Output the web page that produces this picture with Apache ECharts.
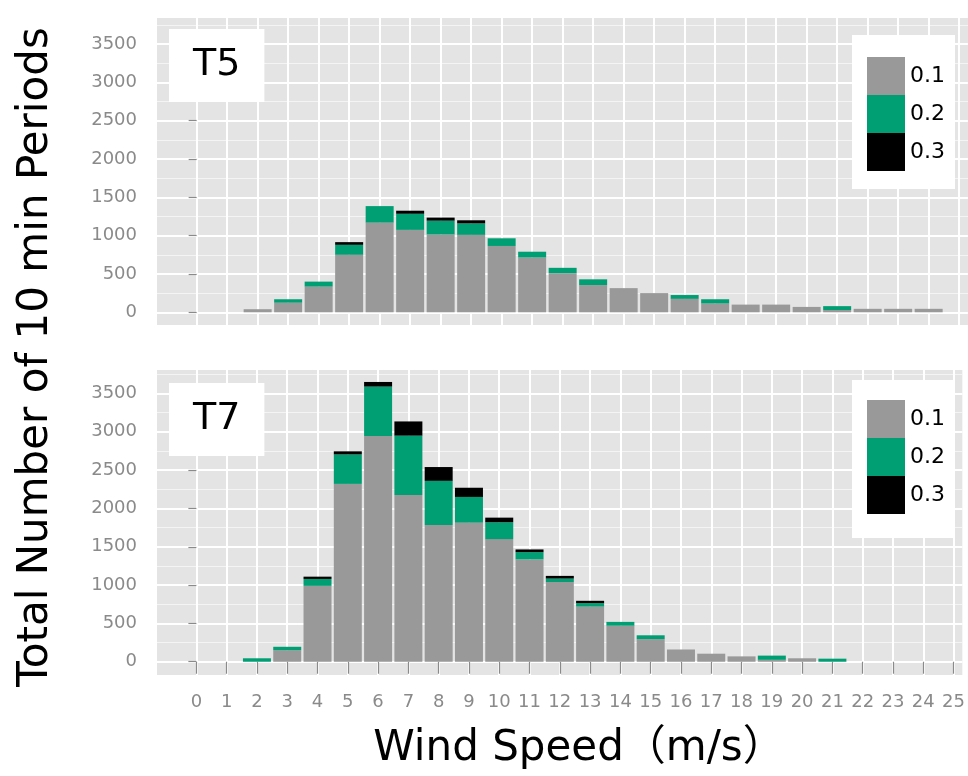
<!DOCTYPE html>
<html>
<head>
<meta charset="utf-8">
<script src="https://cdn.jsdelivr.net/npm/echarts@6/dist/echarts.min.js"></script>
<style>
html,body{margin:0;padding:0;background:#fff;}
#chart{width:968px;height:776px;}
</style>
</head>
<body>
<div id="chart"></div>
<script>
// ---- data ----
const speeds = [0,1,2,3,4,5,6,7,8,9,10,11,12,13,14,15,16,17,18,19,20,21,22,23,24];
const xTicks = [0,1,2,3,4,5,6,7,8,9,10,11,12,13,14,15,16,17,18,19,20,21,22,23,24,25];
const yTicks = [0,500,1000,1500,2000,2500,3000,3500];
const yMinorTicks = [250,750,1250,1750,2250,2750,3250,3750];
const classes = ['0.1','0.2','0.3'];

const t5_01 = [0,0,40,125,335,750,1170,1075,1015,1010,865,715,510,355,315,250,175,115,100,100,70,30,45,45,45];
const t5_02 = [0,0,0,45,65,130,215,210,180,150,100,75,70,75,0,0,50,55,0,0,0,50,0,0,0];
const t5_03 = [0,0,0,0,0,35,0,40,40,40,0,0,0,0,0,0,0,0,0,0,0,0,0,0,0];

const t7_01 = [0,0,0,150,990,2320,2945,2175,1785,1815,1600,1335,1040,720,470,295,160,105,70,25,45,0,0,0,0];
const t7_02 = [0,0,45,45,90,385,645,775,575,335,220,95,45,45,50,50,0,0,0,55,0,40,0,0,0];
const t7_03 = [0,0,0,0,30,40,60,185,180,120,60,35,35,30,0,0,0,0,0,0,0,0,0,0,0];

const colors = ['#999999','#009E73','#000000'];
const FONT = 'DejaVu Sans';

// value first, speed second, so the stacked dimension is the count
function pairs(vals){ return speeds.map((s,i)=>[vals[i], s]); }

const chart = echarts.init(document.getElementById('chart'));

const grids = [
  {left:157, top:18, right:0, height:307, backgroundColor:'#E4E4E4', show:true, borderWidth:0},
  {left:157, top:370, right:0, height:305, backgroundColor:'#E4E4E4', show:true, borderWidth:0}
];

function xAxis(gi, showLabels){
  return {
    type:'value', gridIndex:gi, min:-1.3, max:25.29,
    axisLine:{show:false},
    axisTick:{show:showLabels, customValues:xTicks, length:12, lineStyle:{color:'#8a8a8a', width:1.2}},
    axisLabel:{show:showLabels, customValues:xTicks, margin:18, color:'#8a8a8a', fontSize:18, fontFamily:FONT,
               formatter:function(v){return String(v);}},
    splitLine:{show:true, lineStyle:{color:'#ffffff', width:2}}
  };
}
function yAxisMajor(gi, min, max){
  return {
    type:'value', gridIndex:gi, min:min, max:max,
    axisLine:{show:false},
    axisTick:{show:true, customValues:yTicks, length:8, lineStyle:{color:'#8a8a8a', width:1.2}},
    axisLabel:{show:true, customValues:yTicks, margin:20, color:'#8a8a8a', fontSize:18, fontFamily:FONT,
               formatter:function(v){return String(v);}},
    splitLine:{show:true, lineStyle:{color:'#ffffff', width:2}}
  };
}
function yAxisMinor(gi, min, max){
  return {
    type:'value', gridIndex:gi, min:min, max:max,
    axisLine:{show:false},
    axisTick:{show:false, customValues:yMinorTicks},
    axisLabel:{show:false},
    splitLine:{show:true, lineStyle:{color:'#f4f4f4', width:1}}
  };
}

function barSeries(name, vals, xi, yi, stack, ci){
  return {
    type:'bar', name:name, xAxisIndex:xi, yAxisIndex:yi, stack:stack,
    encode:{x:1, y:0},
    barWidth:28, data:pairs(vals), itemStyle:{color:colors[ci]},
    emphasis:{disabled:true}
  };
}

const legendCommon = {
  orient:'vertical', itemWidth:38, itemHeight:38, itemGap:0,
  backgroundColor:'#ffffff', icon:'rect',
  textStyle:{fontSize:22, fontFamily:FONT, color:'#000', padding:[0,0,0,0]},
  data:classes
};

chart.setOption({
  animation:false,
  grid:grids,
  xAxis:[xAxis(0,false), xAxis(1,true)],
  yAxis:[yAxisMajor(0,-166,3839), yAxisMajor(1,-173,3806), yAxisMinor(0,-166,3839), yAxisMinor(1,-173,3806)],
  legend:[
    Object.assign({left:852, top:35, padding:[22,10,18,15]}, legendCommon),
    Object.assign({left:852, top:380, padding:[20,10,24,15]}, legendCommon)
  ],
  title:[
    {text:'T5', left:169, top:29, padding:[13,24], backgroundColor:'#ffffff',
     textStyle:{fontSize:38, fontFamily:FONT, fontWeight:'normal', color:'#000', lineHeight:47}},
    {text:'T7', left:169, top:383, padding:[13,24], backgroundColor:'#ffffff',
     textStyle:{fontSize:38, fontFamily:FONT, fontWeight:'normal', color:'#000', lineHeight:47}}
  ],
  graphic:[
    {type:'text', x:579, y:749, style:{text:'Wind Speed（m/s）', font:'42px "DejaVu Sans", "Noto Sans CJK SC"', fill:'#000', textAlign:'center', textVerticalAlign:'middle'}},
    {type:'text', x:36, y:357, rotation:Math.PI/2, style:{text:'Total Number of 10 min Periods', font:'42px "DejaVu Sans"', fill:'#000', textAlign:'center', textVerticalAlign:'middle'}}
  ],
  series:[
    barSeries('0.1', t5_01, 0, 0, 't5', 0),
    barSeries('0.2', t5_02, 0, 0, 't5', 1),
    barSeries('0.3', t5_03, 0, 0, 't5', 2),
    barSeries('0.1', t7_01, 1, 1, 't7', 0),
    barSeries('0.2', t7_02, 1, 1, 't7', 1),
    barSeries('0.3', t7_03, 1, 1, 't7', 2)
  ]
});
</script>
</body>
</html>
